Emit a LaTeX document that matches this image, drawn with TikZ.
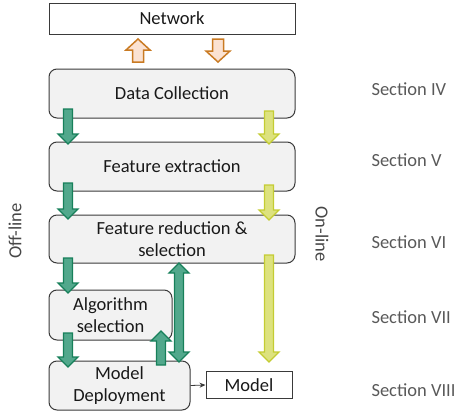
\documentclass[tikz,border=0pt]{standalone}
\usepackage{fontspec}
\setmainfont{Carlito}
\usetikzlibrary{arrows.meta}
\definecolor{boxfill}{HTML}{F2F2F2}
\definecolor{boxline}{HTML}{3A3A3A}
\definecolor{gfill}{HTML}{52A88C}
\definecolor{gline}{HTML}{17805A}
\definecolor{yfill}{HTML}{DDE27E}
\definecolor{yline}{HTML}{C4CC32}
\definecolor{ofill}{HTML}{FBE2D2}
\definecolor{oline}{HTML}{C97A22}
\definecolor{secgray}{HTML}{595959}
\newcommand{\blockdown}[4]{% style, x, ytop, ytip
  \draw[#1] (#2-4.5,#3) -- (#2+4.5,#3) -- (#2+4.5,#4-10) -- (#2+10,#4-10) -- (#2,#4) -- (#2-10,#4-10) -- (#2-4.5,#4-10) -- cycle;}
\newcommand{\blockup}[4]{% style, x, ybottom, ytip
  \draw[#1] (#2-4.5,#3) -- (#2+4.5,#3) -- (#2+4.5,#4+10) -- (#2+10,#4+10) -- (#2,#4) -- (#2-10,#4+10) -- (#2-4.5,#4+10) -- cycle;}
\newcommand{\bigdown}[4]{% style, x, ytop, ytip
  \draw[#1] (#2-5.5,#3) -- (#2+5.5,#3) -- (#2+5.5,#4-11) -- (#2+12,#4-11) -- (#2,#4) -- (#2-12,#4-11) -- (#2-5.5,#4-11) -- cycle;}
\newcommand{\bigup}[4]{% style, x, ybottom, ytip
  \draw[#1] (#2-5.5,#3) -- (#2+5.5,#3) -- (#2+5.5,#4+11) -- (#2+12,#4+11) -- (#2,#4) -- (#2-12,#4+11) -- (#2-5.5,#4+11) -- cycle;}
\newcommand{\blockboth}[4]{% style, x, ytop, ybottom
  \draw[#1] (#2,#3) -- (#2+10,#3+10) -- (#2+4.5,#3+10) -- (#2+4.5,#4-10) -- (#2+10,#4-10) -- (#2,#4) -- (#2-10,#4-10) -- (#2-4.5,#4-10) -- (#2-4.5,#3+10) -- (#2-10,#3+10) -- cycle;}
\begin{document}
\begin{tikzpicture}[x=1pt,y=-1pt,
  every node/.style={font=\fontsize{18.5}{22.5}\selectfont, text=black!90},
  stage/.style={draw=boxline, fill=boxfill, rounded corners=8pt, line width=1pt, align=center, inner sep=0pt},
  plain/.style={draw=boxline, fill=white, line width=1pt, align=center, inner sep=0pt},
  garrow/.style={fill=gfill, draw=gline, line width=1.3pt, line join=miter},
  yarrow/.style={fill=yfill, draw=yline, line width=1.3pt},
  oarrow/.style={fill=ofill, draw=oline, line width=1.5pt},
  seclabel/.style={text=secgray, anchor=west},
  sidelabel/.style={text=secgray!80!black}]
\useasboundingbox (0,0) rectangle (456,415);
\node[plain, minimum width=246pt, minimum height=31pt] (net) at (172,18.5) {Network};
\node[stage, minimum width=246pt, minimum height=49pt] (dc) at (172,93.5) {Data Collection};
\node[stage, minimum width=246pt, minimum height=49pt] (fe) at (172,166.5) {Feature extraction};
\node[stage, minimum width=246pt, minimum height=48pt] (fr) at (172,239) {Feature reduction \&\\selection};
\node[stage, minimum width=123pt, minimum height=50pt] (as) at (110.5,315) {Algorithm\\selection};
\node[stage, minimum width=141pt, minimum height=49pt] (md) at (119.5,385.5) {Model\\Deployment};
\node[plain, minimum width=86pt, minimum height=27pt] (model) at (249,385) {Model};
\draw[-{Stealth[length=6pt,width=5pt]}, line width=0.8pt, boxline] (md.east) -- (model.west);
% orange arrows
\bigup{oarrow}{138}{62}{39}
\bigdown{oarrow}{218}{39}{62}
% green arrows (off-line)
\blockdown{garrow}{68}{109}{144}
\blockdown{garrow}{68}{183}{219}
\blockdown{garrow}{68}{258}{293}
\blockdown{garrow}{68}{333}{367}
\blockup{garrow}{161}{365}{331}
\blockboth{garrow}{179}{263}{362}
% yellow arrows (on-line)
\blockdown{yarrow}{269}{111}{144}
\blockdown{yarrow}{269}{185}{220}
\blockdown{yarrow}{269}{255}{362}
% side labels
\node[sidelabel, rotate=90] (off) at (15,231) {Off-line};
\node[sidelabel, rotate=-90] (on) at (322,234) {On-line};
% section labels
\node[seclabel] (s4) at (368,89) {Section IV};
\node[seclabel] (s5) at (368,160) {Section V};
\node[seclabel] (s6) at (368,242) {Section VI};
\node[seclabel] (s7) at (368,317) {Section VII};
\node[seclabel] (s8) at (368,390) {Section VIII};
\end{tikzpicture}
\end{document}
